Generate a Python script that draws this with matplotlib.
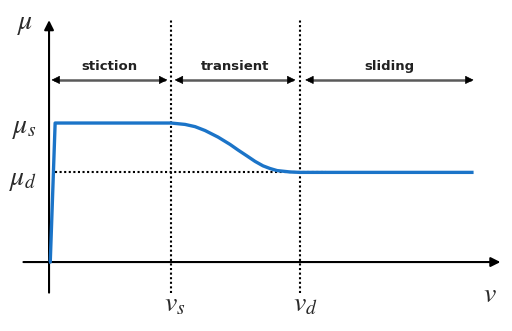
import matplotlib
matplotlib.use("Agg")
import matplotlib.pyplot as plt

plt.rcParams['mathtext.fontset'] = 'stix'

# key velocities / friction levels (arbitrary units)
v_s, v_d = 1.0, 2.057
mu_s, mu_d = 1.0, 0.645

# friction curve
curve_v = [0.0, 0.01, 0.05, 1.0, 1.115, 1.197, 1.279, 1.385, 1.484, 1.549, 1.623,
           1.689, 1.754, 1.811, 1.869, 1.975, 2.057, 3.48]
curve_mu = [0.0, 0.0, 1.0, 1.0, 0.99, 0.974, 0.946, 0.899, 0.846, 0.806, 0.763,
            0.724, 0.692, 0.673, 0.658, 0.648, 0.645, 0.645]

# regimes: name, start, end
regions = ["stiction", "transient", "sliding"]
region_start = [0.02, 1.03, 2.10]
region_end = [0.97, 2.02, 3.48]

fig = plt.figure(figsize=(5.12, 3.31), dpi=100)
ax = fig.add_axes([0, 0, 1, 1])
ax.set_xlim(-0.402, 3.795)
ax.set_ylim(-0.496, 1.885)
ax.axis('off')

# axes with arrows
ax.annotate('', xy=(3.70, 0), xytext=(-0.21, 0),
            arrowprops=dict(arrowstyle='-|>', color='black', lw=1.5, mutation_scale=14,
                            shrinkA=0, shrinkB=0))
ax.annotate('', xy=(0, 1.74), xytext=(0, -0.22),
            arrowprops=dict(arrowstyle='-|>', color='black', lw=1.5, mutation_scale=14,
                            shrinkA=0, shrinkB=0))

# dotted guides
for v in (v_s, v_d):
    ax.plot([v, v], [-0.22, 1.74], color='black', lw=1.5, ls=(0, (1, 1.2)))
ax.plot([0.05, 2.27], [mu_d, mu_d], color='black', lw=1.5, ls=(0, (1, 1.2)))

# friction curve
ax.plot(curve_v, curve_mu, color='#1b74c8', lw=2.4, solid_capstyle='butt',
        solid_joinstyle='round', zorder=3)

# regime arrows (grey shaft, black heads) and labels
y_arr = 1.31
for name, a, b in zip(regions, region_start, region_end):
    ax.plot([a + 0.03, b - 0.03], [y_arr, y_arr], color='#5a5a5a', lw=1.8)
    for tip, d in ((a, 0.02), (b, -0.02)):
        ax.annotate('', xy=(tip, y_arr), xytext=(tip + d, y_arr),
                    arrowprops=dict(arrowstyle='-|>', color='black', lw=0.5,
                                    mutation_scale=13, shrinkA=0, shrinkB=0))
    ax.text((a + b) / 2, 1.41, name, ha='center', va='center',
            fontsize=9.5, fontweight='bold', color='#222222')

# axis symbols
ax.text(-0.13, 1.72, r'$\mu$', ha='right', va='center', fontsize=20, color='#2a2a2a')
ax.text(-0.10, 0.97, r'$\mu_s$', ha='right', va='center', fontsize=20, color='#2a2a2a')
ax.text(-0.10, 0.60, r'$\mu_d$', ha='right', va='center', fontsize=20, color='#2a2a2a')
ax.text(v_s + 0.03, -0.30, r'$v_s$', ha='center', va='center', fontsize=20, color='#2a2a2a')
ax.text(v_d + 0.04, -0.30, r'$v_d$', ha='center', va='center', fontsize=20, color='#2a2a2a')
ax.text(3.61, -0.23, r'$v$', ha='center', va='center', fontsize=20, color='#2a2a2a')

fig.savefig('out.png', dpi=100)
